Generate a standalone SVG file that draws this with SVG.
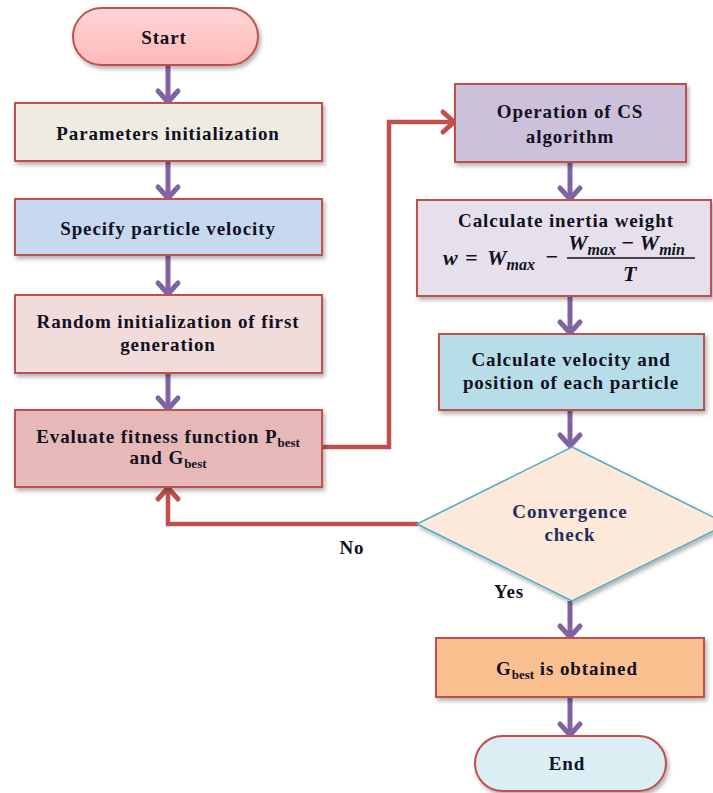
<svg xmlns="http://www.w3.org/2000/svg" width="713" height="793" viewBox="0 0 713 793">
  <defs>
    <filter id="shadow" x="-10%" y="-10%" width="130%" height="140%">
      <feDropShadow dx="2" dy="3" stdDeviation="2" flood-color="#000" flood-opacity="0.3"/>
    </filter>
    <linearGradient id="startFill" x1="0" y1="0" x2="0" y2="1">
      <stop offset="0" stop-color="#ffd6d6"/>
      <stop offset="1" stop-color="#ffb8b8"/>
    </linearGradient>
    <!-- open chevron heads, drawn pointing along +x -->
    <marker id="purpleHead" markerUnits="userSpaceOnUse" markerWidth="28" markerHeight="28" refX="16" refY="14" orient="auto" viewBox="0 0 28 28" overflow="visible">
      <polyline points="5,4 16,14 5,24" fill="none" stroke="#8064a2" stroke-width="5" stroke-linecap="round" stroke-linejoin="round"/>
    </marker>
    <marker id="redHead" markerUnits="userSpaceOnUse" markerWidth="28" markerHeight="28" refX="16" refY="14" orient="auto" viewBox="0 0 28 28" overflow="visible">
      <polyline points="5,4 16,14 5,24" fill="none" stroke="#c0504d" stroke-width="5" stroke-linecap="round" stroke-linejoin="round"/>
    </marker>
  </defs>
  <style>
    .box { stroke: #c0504d; stroke-width: 2; filter: url(#shadow); }
    .dia { stroke: #4bacc6; stroke-width: 1.5; fill: #fde9d9; filter: url(#shadow); }
    .t { font-family: "Liberation Serif", "Times New Roman", serif; font-weight: bold; font-size: 19px; fill: #111122; text-anchor: middle; letter-spacing: 0.9px; }
    .navy { fill: #1f2f5c; }
    .sub { font-size: 13px; letter-spacing: 0; }
    .m { font-family: "Liberation Serif", "Times New Roman", serif; font-weight: bold; font-style: italic; font-size: 22px; fill: #111122; }
    .ms { font-size: 16px; }
    .flow { fill: none; stroke: #8064a2; stroke-width: 5; marker-end: url(#purpleHead); }
    .back { fill: none; stroke: #c0504d; stroke-width: 4.5; stroke-linejoin: miter; marker-end: url(#redHead); }
  </style>

  <rect width="713" height="793" fill="#ffffff"/>

  <!-- connectors -->
  <g id="connectors">
    <line class="flow" x1="168" y1="65" x2="168" y2="102"/>
    <line class="flow" x1="168" y1="161" x2="168" y2="198"/>
    <line class="flow" x1="168" y1="255" x2="168" y2="294"/>
    <line class="flow" x1="168" y1="373" x2="168" y2="409"/>
    <polyline class="back" points="323,447 389,447 389,122 454,122"/>
    <line class="flow" x1="570" y1="163" x2="570" y2="199"/>
    <line class="flow" x1="570" y1="297" x2="570" y2="333"/>
    <line class="flow" x1="570" y1="410" x2="570" y2="446"/>
    <polyline class="back" points="418,524 168,524 168,488"/>
    <line class="flow" x1="570" y1="601" x2="570" y2="637"/>
    <line class="flow" x1="570" y1="698" x2="570" y2="735"/>
    <text class="t" x="352" y="554">No</text>
    <text class="t" x="509" y="598">Yes</text>
  </g>

  <!-- nodes -->
  <g id="start">
    <rect class="box" x="73" y="8" width="185" height="57" rx="28.5" fill="url(#startFill)"/>
    <text class="t" x="164" y="44">Start</text>
  </g>

  <g id="params">
    <rect class="box" x="15" y="103" width="307" height="58" fill="#eeece1"/>
    <text class="t" x="168" y="140">Parameters initialization</text>
  </g>

  <g id="velocity">
    <rect class="box" x="15" y="199" width="307" height="56" fill="#c6d9f1"/>
    <text class="t" x="168" y="235">Specify particle velocity</text>
  </g>

  <g id="random-init">
    <rect class="box" x="15" y="295" width="307" height="78" fill="#f2dcdb"/>
    <text class="t" x="168" y="328">Random  initialization of first</text>
    <text class="t" x="168" y="351">generation</text>
  </g>

  <g id="evaluate">
    <rect class="box" x="15" y="410" width="307" height="77" fill="#e6b9b8"/>
    <text class="t" x="168" y="443">Evaluate fitness function P<tspan class="sub" dy="4">best</tspan></text>
    <text class="t" x="168" y="464">and G<tspan class="sub" dy="4">best</tspan></text>
  </g>

  <g id="cs-operation">
    <rect class="box" x="455" y="84" width="231" height="78" fill="#ccc1da"/>
    <text class="t" x="570" y="118">Operation of CS</text>
    <text class="t" x="570" y="143">algorithm</text>
  </g>

  <g id="inertia">
    <rect class="box" x="417" y="200" width="294" height="96" fill="#e5e0ec"/>
    <text class="t" x="566" y="227">Calculate inertia weight</text>
    <text class="m" x="443" y="265">w</text>
    <text class="m" x="465" y="265" font-style="normal">=</text>
    <text class="m" x="487" y="265">W<tspan class="ms" dy="5">max</tspan></text>
    <text class="m" x="545" y="264" font-style="normal">−</text>
    <text class="m" x="568" y="250">W<tspan class="ms" dy="5">max</tspan><tspan dy="-5" font-style="normal"> − </tspan>W<tspan class="ms" dy="5">min</tspan></text>
    <line x1="567" y1="258" x2="695" y2="258" stroke="#111122" stroke-width="1.6"/>
    <text class="m" x="623" y="281">T</text>
  </g>

  <g id="update-particles">
    <rect class="box" x="439" y="334" width="265" height="76" fill="#b7dee8"/>
    <text class="t" x="571" y="366">Calculate velocity and</text>
    <text class="t" x="571" y="389">position of each particle</text>
  </g>

  <g id="convergence">
    <polygon class="dia" points="572,447 727,524 572,601 417,524"/>
    <text class="t navy" x="570" y="518">Convergence</text>
    <text class="t navy" x="570" y="541">check</text>
  </g>

  <g id="gbest">
    <rect class="box" x="436" y="638" width="268" height="59" fill="#fac090"/>
    <text class="t" x="567" y="675">G<tspan class="sub" dy="4">best</tspan><tspan dy="-4"> is obtained</tspan></text>
  </g>

  <g id="end">
    <rect class="box" x="475" y="736" width="191" height="55" rx="27.5" fill="#dbeef4"/>
    <text class="t" x="567" y="770">End</text>
  </g>
</svg>
